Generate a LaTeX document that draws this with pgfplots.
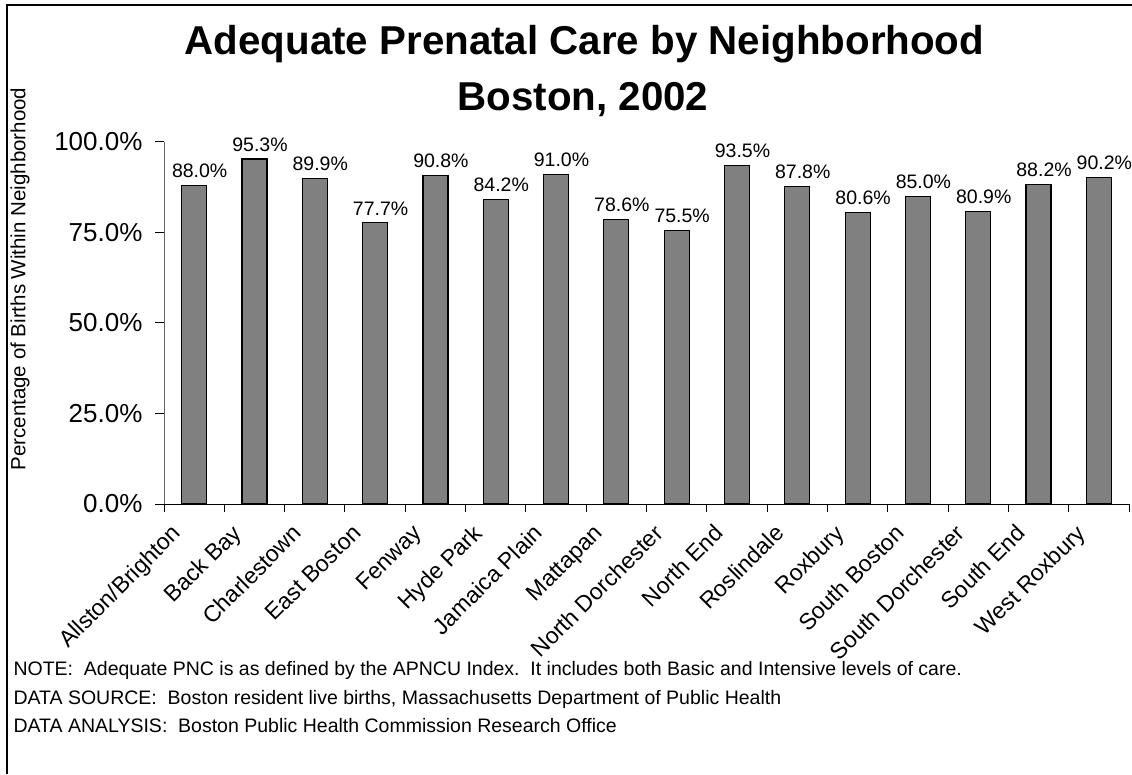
\documentclass[border=0pt]{standalone}
\usepackage{pgfplots}
\pgfplotsset{compat=1.18}
\usepackage{fontspec}
\setmainfont{Liberation Sans}
\definecolor{barfill}{HTML}{808080}
\begin{document}
\begin{tikzpicture}[x=1pt,y=1pt]
\useasboundingbox (0,0) rectangle (1132,774);
\draw[line width=1.5pt] (7,0) -- (7,769) -- (1132,769);
\node[font=\fontsize{40.3}{44}\selectfont\bfseries, anchor=base] at (584.5,719) {Adequate Prenatal Care by Neighborhood};
\node[font=\fontsize{40.3}{44}\selectfont\bfseries, anchor=base] at (583,663) {Boston, 2002};
\node[font=\fontsize{20.5}{24}\selectfont, rotate=90] at (20,495) {Percentage of Births Within Neighborhood};
\begin{axis}[
  at={(164pt,270pt)}, anchor=south west,
  scale only axis, width=965pt, height=362pt,
  xmin=-0.5, xmax=15.5, ymin=0, ymax=100,
  axis x line*=bottom, axis y line*=left,
  x axis line style={black, line width=1pt, -},
  y axis line style={black!60, line width=1pt, -},
  tick align=outside,
  ytick={0,25,50,75,100},
  yticklabels={0.0\%,25.0\%,50.0\%,75.0\%,100.0\%},
  yticklabel style={font=\fontsize{26}{30}\selectfont, xshift=-9pt},
  ytick style={black, line width=1pt},
  major tick length=9pt,
  xtick={0,...,15},
  x tick style={draw=none},
  minor xtick={-0.5,0.5,...,15.5},
  minor x tick style={draw=black, line width=1pt},
  minor tick length=8pt,
  xticklabels={Allston/Brighton,Back Bay,Charlestown,East Boston,Fenway,Hyde Park,Jamaica Plain,Mattapan,North Dorchester,North End,Roslindale,Roxbury,South Boston,South Dorchester,South End,West Roxbury},
  xticklabel style={font=\fontsize{23}{26}\selectfont, xshift=-24pt, yshift=-7pt, rotate=45, anchor=north east, inner sep=2pt},
  /pgf/number format/assume math mode=true,
  nodes near coords={\pgfmathprintnumber[fixed,fixed zerofill,precision=1]{\pgfplotspointmeta}\%},
  every node near coord/.append style={font=\fontsize{19.5}{24}\selectfont, black, inner sep=3pt, xshift=5.5pt, yshift=4pt},
  clip=false,
]
\addplot[ybar, bar width=25pt, fill=barfill, draw=black, line width=1.2pt] coordinates {
(0,88.0) (1,95.3) (2,89.9) (3,77.7) (4,90.8) (5,84.2) (6,91.0) (7,78.6)
(8,75.5) (9,93.5) (10,87.8) (11,80.6) (12,85.0) (13,80.9) (14,88.2) (15,90.2)};
\end{axis}
\node[font=\fontsize{19.5}{22}\selectfont, anchor=base west] at (10,99) {NOTE:\ \ Adequate PNC is as defined by the APNCU Index.\ \ It includes both Basic and Intensive levels of care.};
\node[font=\fontsize{19.5}{22}\selectfont, anchor=base west] at (10,70) {DATA SOURCE:\ \ Boston resident live births, Massachusetts Department of Public Health};
\node[font=\fontsize{19.5}{22}\selectfont, anchor=base west] at (10,42) {DATA ANALYSIS:\ \ Boston Public Health Commission Research Office};
\end{tikzpicture}
\end{document}
